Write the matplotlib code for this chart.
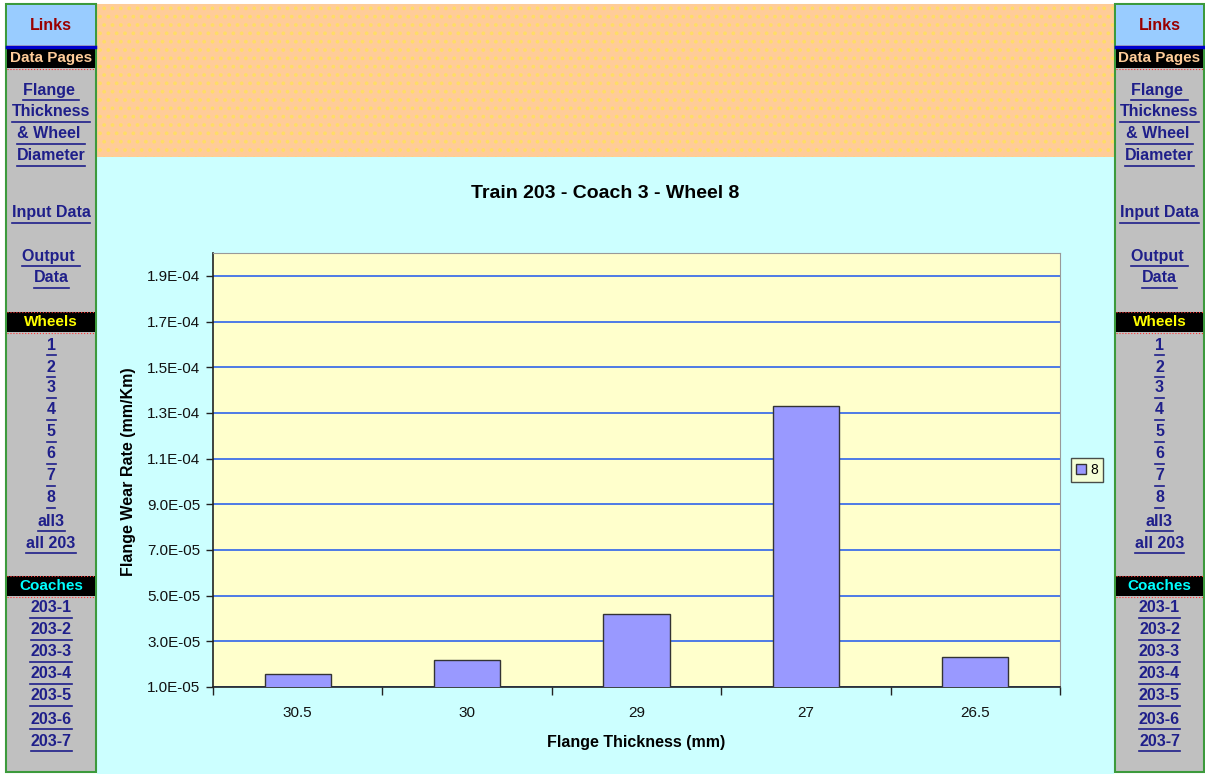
import matplotlib
matplotlib.use('Agg')
import matplotlib.pyplot as plt
from matplotlib.patches import Rectangle

plt.rcParams['font.family'] = ['Liberation Sans', 'DejaVu Sans']
plt.rcParams['hatch.linewidth'] = 1.5

# chart data
categories = ['30.5', '30', '29', '27', '26.5']
wear_rate = [1.58e-05, 2.2e-05, 4.18e-05, 1.331e-04, 2.31e-05]
series_name = '8'
ytick_values = [1e-05, 3e-05, 5e-05, 7e-05, 9e-05, 1.1e-04, 1.3e-04, 1.5e-04, 1.7e-04, 1.9e-04]
ytick_labels = ['1.0E-05', '3.0E-05', '5.0E-05', '7.0E-05', '9.0E-05',
                '1.1E-04', '1.3E-04', '1.5E-04', '1.7E-04', '1.9E-04']
title = 'Train 203 - Coach 3 - Wheel 8'

# side panel texts
top_links = ['Flange ', 'Thickness', '& Wheel ', 'Diameter', 'Input Data', 'Output ', 'Data']
wheel_links = ['1', '2', '3', '4', '5', '6', '7', '8', 'all3', 'all 203']
coach_links = ['203-1', '203-2', '203-3', '203-4', '203-5', '203-6', '203-7']

W, H = 1205, 774
fig = plt.figure(figsize=(W / 100, H / 100), dpi=100)
fig.patch.set_facecolor('white')

bg = fig.add_axes([0, 0, 1, 1])
bg.set_xlim(0, W)
bg.set_ylim(H, 0)
bg.axis('off')

# page backgrounds
bg.add_patch(Rectangle((97, 4), 1017, 153, facecolor='#ffcc99', linewidth=0))
bg.add_patch(Rectangle((97, 4), 1017, 153, facecolor='none', edgecolor='#ffdd66',
                       hatch='..', linewidth=0.01))
bg.add_patch(Rectangle((97, 157), 1017, 617, facecolor='#ccffff', linewidth=0))

link_color = '#1f1f8a'
underlines = []


def panel(x0, x1):
    cx = (x0 + x1) / 2
    bg.add_patch(Rectangle((x0, 4), x1 - x0, 768, facecolor='#c0c0c0',
                           edgecolor='#3c9a3c', linewidth=1.5))
    bg.add_patch(Rectangle((x0 + 1, 5), x1 - x0 - 2, 40, facecolor='#99ccff', linewidth=0))
    bg.text(cx, 25, 'Links', color='#990000', fontsize=11.5, fontweight='bold',
            ha='center', va='center')
    bg.plot([x0 + 1, x1 - 1], [46.5, 46.5], color='#0000cc', lw=2.5)
    for y0, label, col in [(48, 'Data Pages', '#ffcc99'), (312, 'Wheels', '#ffff00'),
                           (576, 'Coaches', '#00ffff')]:
        bg.add_patch(Rectangle((x0 + 1, y0), x1 - x0 - 2, 20, facecolor='black', linewidth=0))
        bg.plot([x0 + 1, x1 - 1], [y0 + 20.5, y0 + 20.5], color='#ff3333', lw=0.8, ls=':')
        if label != 'Data Pages':
            bg.plot([x0 + 1, x1 - 1], [y0 - 0.5, y0 - 0.5], color='#ff3333', lw=0.8, ls=':')
        bg.text(cx, y0 + 10, label, color=col, fontsize=11, fontweight='bold',
                ha='center', va='center')
    ys = [90, 112, 134, 156, 213, 256, 278]
    ys += [345, 367, 388, 410, 432, 454, 476, 498, 521, 543]
    ys += [608, 630, 652, 674, 696, 719, 741]
    for y, s in zip(ys, top_links + wheel_links + coach_links):
        t = bg.text(cx, y, s, color=link_color, fontsize=11.5, fontweight='bold',
                    ha='center', va='center')
        underlines.append((t, cx, y))


panel(6, 96)
panel(1115, 1204)

# chart
ax = fig.add_axes([213 / W, (H - 687) / H, (1060 - 213) / W, (687 - 253) / H])
ax.set_facecolor('#ffffcc')
x = list(range(len(categories)))
bars = ax.bar(x, wear_rate, width=0.39, color='#9999ff', edgecolor='#333333',
              linewidth=1, zorder=3, label=series_name)
ax.set_xlim(-0.5, len(categories) - 0.5)
ax.set_ylim(1e-05, 2e-04)
ax.set_yticks(ytick_values)
ax.set_yticklabels(ytick_labels, fontsize=11, color='#111111')
ax.set_xticks(x)
ax.set_xticklabels(categories, fontsize=11, color='#111111')
ax.tick_params(axis='x', length=0, pad=14)
ax.set_xticks([i - 0.5 for i in range(len(categories) + 1)], minor=True)
ax.tick_params(axis='x', which='minor', length=6, width=1, direction='out', color='#222222')
ax.tick_params(axis='y', length=5, width=1, direction='out', color='#222222', pad=4)
ax.grid(axis='y', color='#3f6fe8', lw=1.3, zorder=1)
ax.set_axisbelow(True)
for side in ['top', 'right']:
    ax.spines[side].set_color('#999999')
for side in ['left', 'bottom']:
    ax.spines[side].set_color('#222222')
    ax.spines[side].set_linewidth(1.2)

bg.text(605, 193, title, fontsize=14, fontweight='bold', ha='center', va='center')
bg.text(636, 742, 'Flange Thickness (mm)', fontsize=11.5, fontweight='bold',
        ha='center', va='center')
bg.text(128, 472, 'Flange Wear Rate (mm/Km)', fontsize=11.5, fontweight='bold',
        ha='center', va='center', rotation=90)

leg = fig.legend(handles=[bars], labels=[series_name], loc='center',
                 bbox_to_anchor=(1087 / W, 1 - 470 / H), fontsize=10,
                 frameon=True, fancybox=False, facecolor='#ffffcc', edgecolor='#222222',
                 handlelength=0.7, handleheight=0.7, handletextpad=0.3, borderpad=0.35)
leg.get_frame().set_linewidth(1)

# underline the link texts
renderer = fig.canvas.get_renderer()
for t, cx, y in underlines:
    w = t.get_window_extent(renderer).width
    bg.plot([cx - w / 2, cx + w / 2], [y + 9.5, y + 9.5], color=link_color, lw=1.2)

fig.savefig('out.png', dpi=100)
